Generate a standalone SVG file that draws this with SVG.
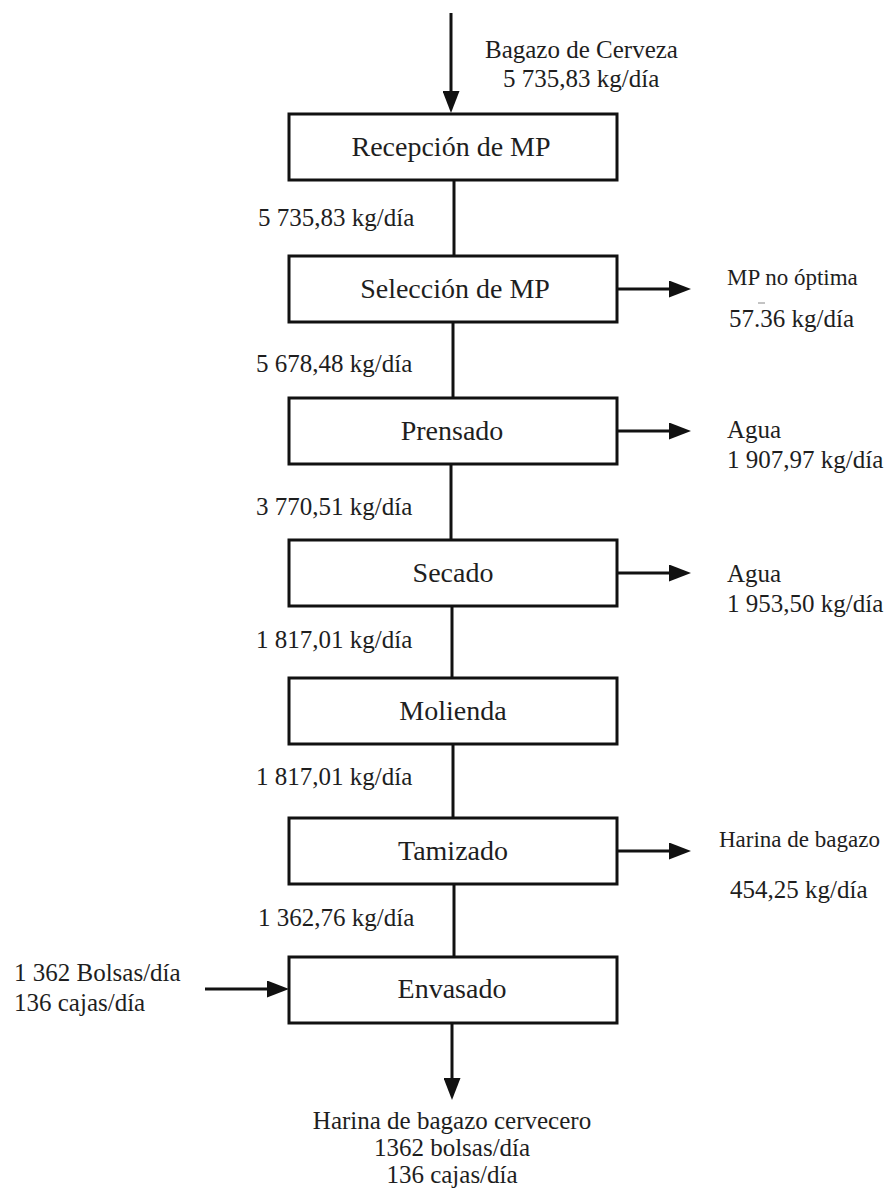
<svg xmlns="http://www.w3.org/2000/svg" width="888" height="1192" viewBox="0 0 888 1192">
  <style>
    .box { fill: #ffffff; stroke: #111111; stroke-width: 3; }
    .conn { stroke: #111111; stroke-width: 3; fill: none; }
    .bt { font-family: "Liberation Serif", serif; font-size: 28px; fill: #1e1e1e; text-anchor: middle; }
    .lb { font-family: "Liberation Serif", serif; font-size: 25px; fill: #1e1e1e; }
    .lt { font-family: "Liberation Serif", serif; font-size: 23px; fill: #1e1e1e; }
    .mid { text-anchor: middle; }
  </style>
  <defs>
    <marker id="ah" markerUnits="userSpaceOnUse" markerWidth="22" markerHeight="17" refX="2" refY="8.5" orient="auto">
      <path d="M0,0 L22,8.5 L0,17 z" fill="#111111"/>
    </marker>
  </defs>
  <rect width="888" height="1192" fill="#ffffff"/>

  <g id="connectors">
    <line class="conn" x1="451" y1="13" x2="451" y2="93" marker-end="url(#ah)"/>
    <line class="conn" x1="454" y1="180" x2="454" y2="256"/>
    <line class="conn" x1="453" y1="322" x2="453" y2="398"/>
    <line class="conn" x1="451" y1="464" x2="451" y2="540"/>
    <line class="conn" x1="452" y1="606" x2="452" y2="678"/>
    <line class="conn" x1="453" y1="744" x2="453" y2="818"/>
    <line class="conn" x1="454" y1="884" x2="454" y2="957"/>
    <line class="conn" x1="452" y1="1023" x2="452" y2="1080" marker-end="url(#ah)"/>
    <line class="conn" x1="617" y1="289" x2="671" y2="289" marker-end="url(#ah)"/>
    <line class="conn" x1="617" y1="431" x2="671" y2="431" marker-end="url(#ah)"/>
    <line class="conn" x1="617" y1="573" x2="671" y2="573" marker-end="url(#ah)"/>
    <line class="conn" x1="617" y1="851" x2="671" y2="851" marker-end="url(#ah)"/>
    <line class="conn" x1="205" y1="989" x2="269" y2="989" marker-end="url(#ah)"/>
  </g>

  <g id="recepcion">
    <rect class="box" x="289" y="114" width="328" height="66"/>
    <text class="bt" x="451" y="156">Recepción de MP</text>
  </g>
  <g id="seleccion">
    <rect class="box" x="289" y="256" width="328" height="66"/>
    <text class="bt" x="455" y="298">Selección de MP</text>
  </g>
  <g id="prensado">
    <rect class="box" x="289" y="398" width="328" height="66"/>
    <text class="bt" x="452" y="440">Prensado</text>
  </g>
  <g id="secado">
    <rect class="box" x="289" y="540" width="328" height="66"/>
    <text class="bt" x="453" y="582">Secado</text>
  </g>
  <g id="molienda">
    <rect class="box" x="289" y="678" width="328" height="66"/>
    <text class="bt" x="453" y="720">Molienda</text>
  </g>
  <g id="tamizado">
    <rect class="box" x="289" y="818" width="328" height="66"/>
    <text class="bt" x="453" y="860">Tamizado</text>
  </g>
  <g id="envasado">
    <rect class="box" x="289" y="957" width="328" height="66"/>
    <text class="bt" x="452" y="998">Envasado</text>
  </g>

  <g id="labels">
    <text class="lb" x="485" y="58">Bagazo de Cerveza</text>
    <text class="lb" x="503" y="87">5 735,83 kg/día</text>

    <text class="lb" x="258" y="226">5 735,83 kg/día</text>
    <text class="lb" x="256" y="372">5 678,48 kg/día</text>
    <text class="lb" x="256" y="515">3 770,51 kg/día</text>
    <text class="lb" x="256" y="648">1 817,01 kg/día</text>
    <text class="lb" x="256" y="785">1 817,01 kg/día</text>
    <text class="lb" x="258" y="926">1 362,76 kg/día</text>

    <text class="lt" x="727" y="285">MP no óptima</text>
    <line x1="758" y1="303" x2="765" y2="303" stroke="#888888" stroke-width="1"/>
    <text class="lb" x="729" y="327">57.36 kg/día</text>

    <text class="lb" x="727" y="438">Agua</text>
    <text class="lb" x="727" y="468">1 907,97 kg/día</text>

    <text class="lb" x="727" y="582">Agua</text>
    <text class="lb" x="727" y="612">1 953,50 kg/día</text>

    <text class="lt" x="719" y="847">Harina de bagazo</text>
    <text class="lb" x="730" y="898">454,25 kg/día</text>

    <text class="lb" x="14" y="981">1 362 Bolsas/día</text>
    <text class="lb" x="14" y="1011">136 cajas/día</text>

    <text class="lb mid" x="452" y="1129">Harina de bagazo cervecero</text>
    <text class="lb mid" x="452" y="1156">1362 bolsas/día</text>
    <text class="lb mid" x="452" y="1183">136 cajas/día</text>
  </g>
</svg>
